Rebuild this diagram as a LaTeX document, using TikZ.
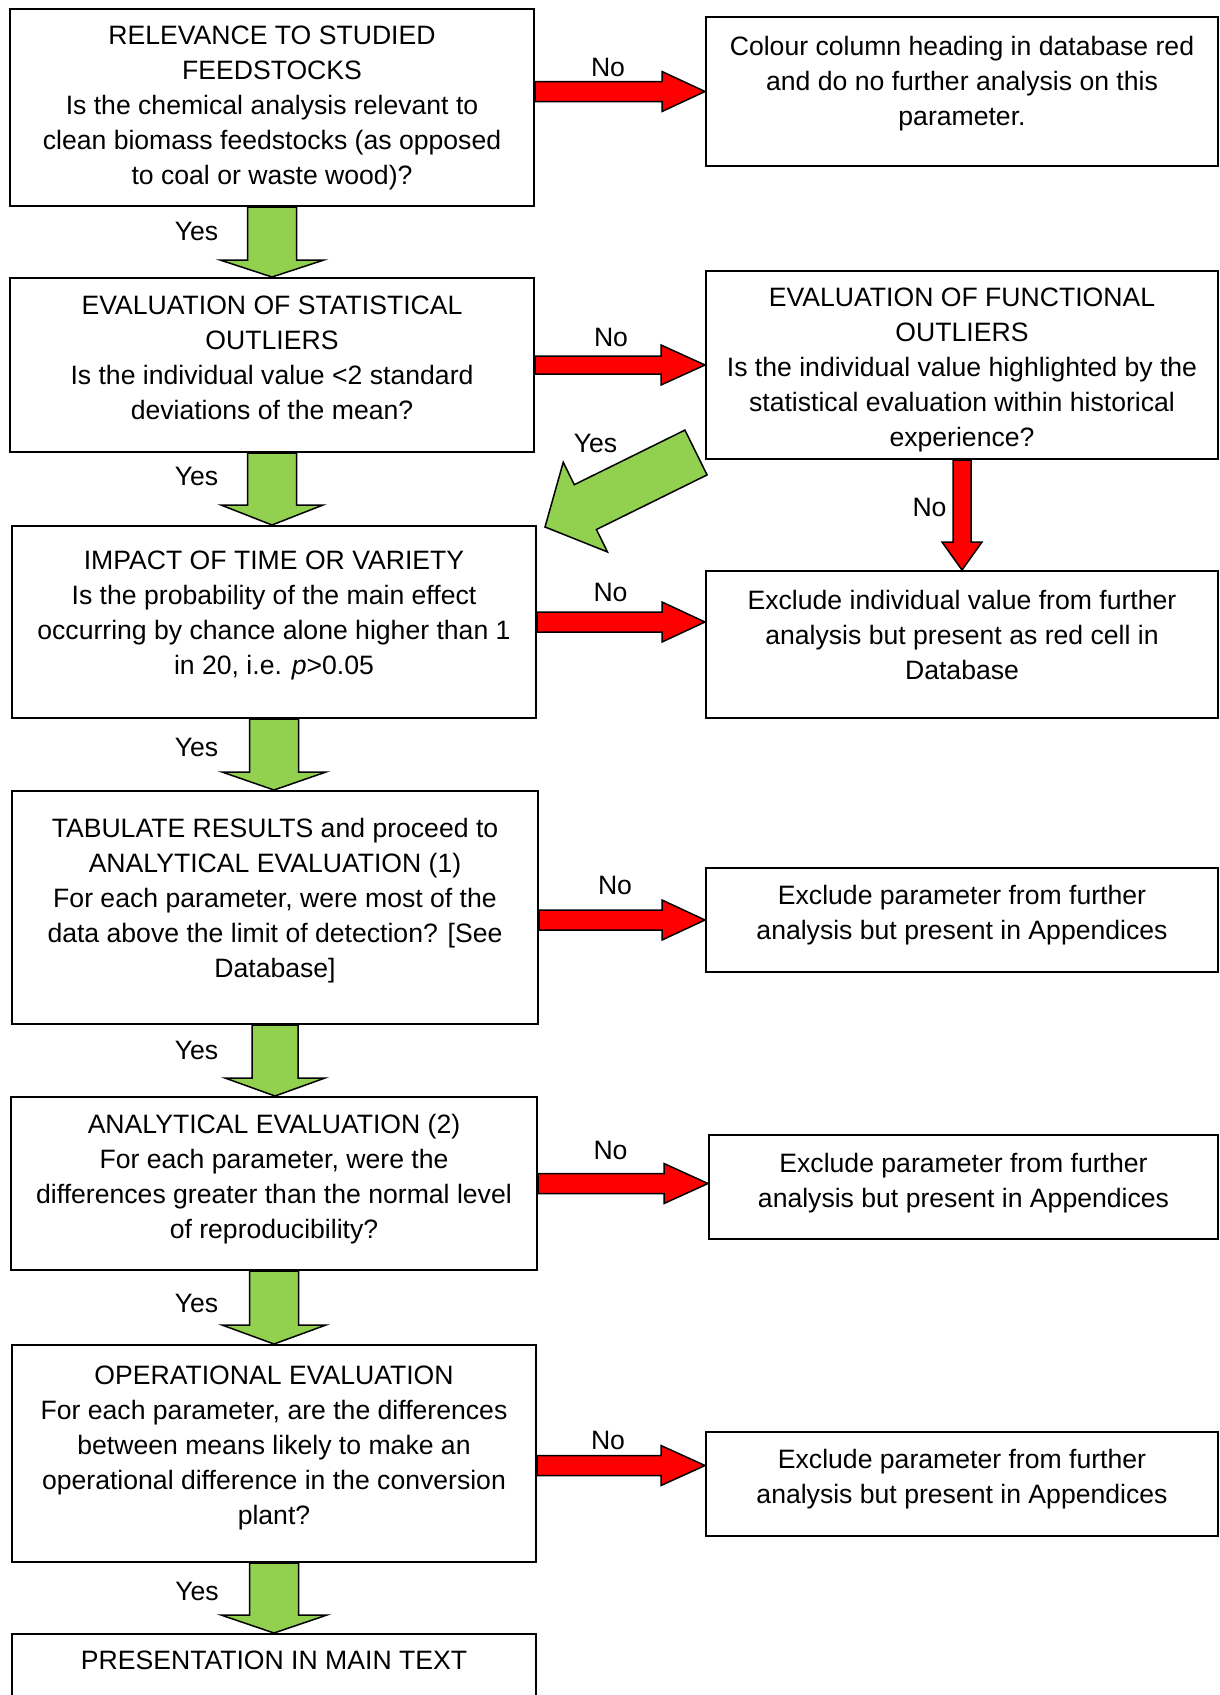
\documentclass[tikz,border=0pt]{standalone}
\usepackage{fontspec}
\setmainfont{Liberation Sans}
\usetikzlibrary{calc}
\definecolor{yesgreen}{RGB}{146,208,80}

% fat block arrow: style, from, to, shaft half width, head half width, head length
\newcommand{\blockarrow}[6]{%
  \path ($(#3)!#6!(#2)$) coordinate (ah);
  \draw[#1] ($(#2)!#4!90:(#3)$) -- ($(ah)!#4!90:(#3)$) -- ($(ah)!#5!90:(#3)$) -- (#3)
    -- ($(ah)!#5!-90:(#3)$) -- ($(ah)!#4!-90:(#3)$) -- ($(#2)!#4!-90:(#3)$) -- cycle;
}

\tikzset{
  flowbox/.style={rectangle, draw, line width=2pt, inner sep=0pt, align=center,
    font=\fontsize{26.6pt}{35pt}\selectfont,
    execute at begin node={\rule{0pt}{34pt}},
    execute at end node={\rule[-#1]{0pt}{#1}}},
  flowbox/.default=16pt,
  answer/.style={inner sep=0pt, font=\fontsize{26.6pt}{32pt}\selectfont},
  noarrow/.style={draw=black, fill=red, line width=1.5pt},
  yesarrow/.style={draw=black, fill=yesgreen, line width=1.5pt}
}

\begin{document}
\begin{tikzpicture}[x=1pt, y=1pt]
  \useasboundingbox (0,0) rectangle (1219,-1695);
  % Nodes
  \node (rel) [flowbox=1pt, minimum width=524pt, minimum height=197pt] at (272,-107.5)
    {RELEVANCE TO STUDIED\\FEEDSTOCKS\\Is the chemical analysis relevant to\\clean biomass feedstocks (as opposed\\to coal or waste wood)?};
  \node (col) [flowbox=22pt, minimum width=512pt, minimum height=149pt] at (962,-91.5)
    {Colour column heading in database red\\and do no further analysis on this\\parameter.};
  \node (stat) [flowbox=15pt, minimum width=524pt, minimum height=174pt] at (272,-365)
    {EVALUATION OF STATISTICAL\\OUTLIERS\\Is the individual value <2 standard\\deviations of the mean?};
  \node (func) [flowbox=1pt, execute at begin node={\rule{0pt}{169pt}},
    minimum width=512pt, minimum height=188pt] at (962,-365)
    {EVALUATION OF FUNCTIONAL\\OUTLIERS\\Is the individual value highlighted by the\\statistical evaluation within historical\\experience?};
  \node (impact) [flowbox=19pt, minimum width=524pt, minimum height=192pt] at (274,-622)
    {IMPACT OF TIME OR VARIETY\\Is the probability of the main effect\\occurring by chance alone higher than 1\\in 20, i.e. \textit{p}>0.05};
  \node (excla) [flowbox=19pt, minimum width=512pt, minimum height=147pt] at (962,-644.5)
    {Exclude individual value from further\\analysis but present as red cell in\\Database};
  \node (tab) [flowbox=19pt, minimum width=526pt, minimum height=233pt] at (275,-907.5)
    {TABULATE RESULTS and proceed to\\ANALYTICAL EVALUATION (1)\\For each parameter, were most of the\\data above the limit of detection? [See\\Database]};
  \node (exclb) [flowbox=15pt, minimum width=512pt, minimum height=104pt] at (962,-920)
    {Exclude parameter from further\\analysis but present in Appendices};
  \node (anal) [flowbox=15pt, minimum width=526pt, minimum height=173pt] at (274,-1183.5)
    {ANALYTICAL EVALUATION (2)\\For each parameter, were the\\differences greater than the normal level\\of reproducibility?};
  \node (exclc) [flowbox=13pt, minimum width=509pt, minimum height=104pt] at (963.5,-1187)
    {Exclude parameter from further\\analysis but present in Appendices};
  \node (oper) [flowbox=17pt, minimum width=524pt, minimum height=217pt] at (274,-1453.5)
    {OPERATIONAL EVALUATION\\For each parameter, are the differences\\between means likely to make an\\operational difference in the conversion\\plant?};
  \node (excld) [flowbox=15pt, minimum width=512pt, minimum height=104pt] at (962,-1484)
    {Exclude parameter from further\\analysis but present in Appendices};
  \node (pres) [flowbox=36pt, minimum width=524pt, minimum height=72pt] at (274,-1670)
    {PRESENTATION IN MAIN TEXT};

  % Labels
  \node (no1) [answer] at (608,-67.5) {No};
  \node (no2) [answer] at (611,-337.5) {No};
  \node (no3) [answer] at (929.5,-507) {No};
  \node (no4) [answer] at (610.5,-592) {No};
  \node (no5) [answer] at (615,-885) {No};
  \node (no6) [answer] at (610.5,-1150) {No};
  \node (no7) [answer] at (608,-1440) {No};
  \node (yes1) [answer] at (196.5,-231) {Yes};
  \node (yes2) [answer] at (595.5,-443) {Yes};
  \node (yes3) [answer] at (196.5,-476.5) {Yes};
  \node (yes4) [answer] at (196.5,-747.5) {Yes};
  \node (yes5) [answer] at (196.5,-1050.5) {Yes};
  \node (yes6) [answer] at (196.5,-1303) {Yes};
  \node (yes7) [answer] at (197,-1591) {Yes};

  % Arrows
  \coordinate (noop) at ($(oper.east)+(0,-12)$);
  \coordinate (ytail) at ($(func.south west)+(-9,7.5)$);
  \coordinate (ytip) at ($(impact.north east)+(8,-2)$);

  \blockarrow{noarrow}{rel.east |- col.west}{col.west}{10pt}{20pt}{43pt}
  \blockarrow{noarrow}{stat.east}{func.west}{9pt}{20pt}{44pt}
  \blockarrow{noarrow}{func.south}{excla.north}{9pt}{20pt}{28pt}
  \blockarrow{noarrow}{impact.east}{impact.east -| excla.west}{10pt}{20pt}{43pt}
  \blockarrow{noarrow}{tab.east |- exclb.west}{exclb.west}{10pt}{20pt}{43pt}
  \blockarrow{noarrow}{anal.east}{anal.east -| exclc.west}{10pt}{20pt}{44pt}
  \blockarrow{noarrow}{noop}{noop -| excld.west}{10pt}{20pt}{44pt}

  \blockarrow{yesarrow}{rel.south}{rel.south |- stat.north}{24.5pt}{52pt}{17pt}
  \blockarrow{yesarrow}{stat.south}{stat.south |- impact.north}{24.5pt}{51pt}{20pt}
  \blockarrow{yesarrow}{ytail}{ytip}{25pt}{50pt}{45pt}
  \blockarrow{yesarrow}{impact.south}{impact.south |- tab.north}{24.5pt}{52pt}{18pt}
  \blockarrow{yesarrow}{tab.south}{tab.south |- anal.north}{23pt}{50pt}{18pt}
  \blockarrow{yesarrow}{anal.south}{anal.south |- oper.north}{24.5pt}{52pt}{19pt}
  \blockarrow{yesarrow}{oper.south}{oper.south |- pres.north}{24.5pt}{53pt}{18pt}
\end{tikzpicture}
\end{document}
